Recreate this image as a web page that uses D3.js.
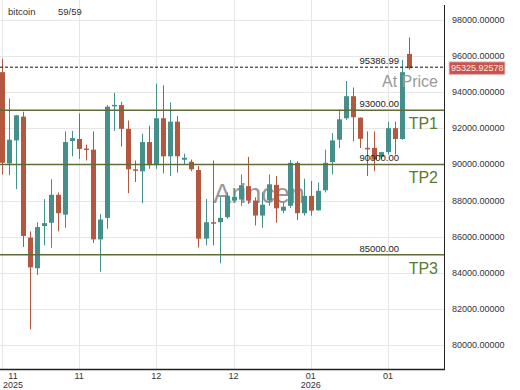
<!DOCTYPE html>
<html>

<head>
    <meta charset="utf-8">
    <style>
        body {
            margin: 0;
            background: white;
        }

        svg {
            display: block;
            font-family: 'Liberation Sans', Arial, sans-serif;
        }
    </style>
</head>

<body>
    <svg width="520" height="390"></svg>
</body>

<script src="https://d3js.org/d3.v7.min.js"></script>

<script>

    // candles (59 bars)
    let opens = [95110, 90060, 91330, 92650, 85950, 84250, 86590, 86770, 88320, 87220,
        91300, 91410, 90880, 90820, 85850, 87040, 93250, 93290, 91970, 89730,
        89620, 91240, 89960, 92560, 90450, 92370, 90260, 90150, 89690, 85890,
        86800, 86800, 87080, 88000, 88060, 88800, 88000, 87170, 88000, 88870,
        87440, 87710, 90090, 87300, 88260, 87460, 88570, 90130, 91370, 92560,
        93780, 92590, 90920, 90920, 90420, 90680, 92010, 91410, 96120]
    let highs = [95860, 93650, 92740, 92920, 86290, 86800, 88080, 89180, 88450, 91830,
        91860, 92830, 91100, 91830, 87260, 93290, 93960, 93470, 92430, 90220,
        91700, 92140, 94480, 94380, 93440, 92690, 90600, 90270, 89910, 88080,
        90220, 88190, 88450, 88630, 89450, 90420, 88180, 88450, 89450, 89360,
        87900, 90240, 90180, 89210, 89090, 89000, 90820, 91740, 93050, 94620,
        94260, 92600, 91830, 91830, 90700, 92370, 92370, 95790, 97030]
    let lows = [89450, 89400, 88630, 85430, 80870, 83880, 85520, 85380, 86290, 86490,
        90450, 90310, 90220, 85650, 84060, 86440, 91860, 91000, 88410, 89030,
        87850, 89760, 89760, 89510, 89360, 89550, 90000, 89630, 85400, 85520,
        85520, 84520, 86990, 87970, 87710, 87810, 86620, 86490, 87710, 86770,
        87300, 87590, 86930, 87170, 87170, 87440, 88450, 89450, 90910, 92470,
        91280, 90910, 89360, 89630, 90300, 90550, 90550, 91370, 95240]
    let closes = [90090, 91370, 92720, 86040, 84300, 86530, 86750, 88320, 87300, 91240,
        91460, 90860, 90860, 85850, 86950, 93200, 93300, 91970, 89730, 89700,
        91240, 89960, 92560, 90450, 92370, 90450, 90370, 89730, 85890, 86800,
        86750, 87040, 88260, 88200, 88850, 88000, 87170, 87770, 88900, 87570,
        87660, 90090, 87300, 88260, 87440, 88540, 90090, 91330, 92500, 93780,
        92610, 91420, 90900, 90270, 90680, 92010, 91410, 95110, 95330]

    let priceTicks = [80000, 82000, 84000, 86000, 88000, 90000, 92000, 94000, 96000, 98000]
    let dateTickIndex = [0, 11, 22, 33, 44, 55]
    let dateTickLabels = ["11", "11", "12", "12", "01", "01"]
    let yearLabels = ["2025", "", "", "", "2026", ""]

    let levels = [93000, 90000, 85000]
    let levelNames = ["TP1", "TP2", "TP3"]
    let atPrice = 95386.99
    let lastPrice = 95325.92578

    let svg = d3.select("svg")

    let plotRight = 444
    let plotBottom = 369

    let x = d3.scaleLinear()
        .domain([0, 58])
        .range([2, 409])

    let y = d3.scaleLinear()
        .domain([80000, 98000])
        .range([345, 20])

    // grid
    svg.selectAll(".hgrid")
        .data(priceTicks)
        .join("line")
        .attr("x1", 0)
        .attr("x2", plotRight)
        .attr("y1", d => Math.round(y(d)) + 0.5)
        .attr("y2", d => Math.round(y(d)) + 0.5)
        .style("stroke", "#e6e6e6")

    svg.selectAll(".vgrid")
        .data(dateTickIndex)
        .join("line")
        .attr("x1", d => Math.round(x(d)) + 0.5)
        .attr("x2", d => Math.round(x(d)) + 0.5)
        .attr("y1", 0)
        .attr("y2", plotBottom)
        .style("stroke", "#e6e6e6")

    // watermark
    svg.append("text")
        .attr("x", 259)
        .attr("y", 203)
        .attr("text-anchor", "middle")
        .style("font-size", "27px")
        .style("fill", "#555")
        .style("opacity", 0.6)
        .text("Arincen")

    // candles
    let idx = d3.range(opens.length)
    let upCol = "#45908a"
    let downCol = "#b5573f"
    let col = i => closes[i] >= opens[i] ? upCol : downCol

    svg.selectAll(".wick")
        .data(idx)
        .join("line")
        .attr("x1", i => Math.round(x(i)) + 0.5)
        .attr("x2", i => Math.round(x(i)) + 0.5)
        .attr("y1", i => y(highs[i]))
        .attr("y2", i => y(lows[i]))
        .style("stroke", i => col(i))
        .style("stroke-width", 1)

    svg.selectAll(".body")
        .data(idx)
        .join("rect")
        .attr("x", i => Math.round(x(i)) - 2)
        .attr("width", 5)
        .attr("y", i => y(Math.max(opens[i], closes[i])))
        .attr("height", i => Math.max(1.5, Math.abs(y(opens[i]) - y(closes[i]))))
        .style("fill", i => col(i))

    // target lines
    svg.selectAll(".level")
        .data(levels)
        .join("line")
        .attr("x1", 0)
        .attr("x2", plotRight)
        .attr("y1", d => y(d))
        .attr("y2", d => y(d))
        .style("stroke", "#5f6b38")
        .style("stroke-width", 1.4)

    svg.selectAll(".levelval")
        .data(levels)
        .join("text")
        .attr("x", 399)
        .attr("y", d => y(d) - 3)
        .attr("text-anchor", "end")
        .style("font-size", "9.5px")
        .style("fill", "#222")
        .text(d => d3.format(".2f")(d))

    svg.selectAll(".levelname")
        .data(levels)
        .join("text")
        .attr("x", 438)
        .attr("y", d => y(d) + 19)
        .attr("text-anchor", "end")
        .style("font-size", "16px")
        .style("fill", "#5a7a30")
        .text((d, i) => levelNames[i])

    // at price line
    svg.append("line")
        .attr("x1", 0)
        .attr("x2", plotRight)
        .attr("y1", y(atPrice))
        .attr("y2", y(atPrice))
        .style("stroke", "#111")
        .style("stroke-dasharray", "3,2")

    svg.append("text")
        .attr("x", 399)
        .attr("y", y(atPrice) - 3)
        .attr("text-anchor", "end")
        .style("font-size", "9.5px")
        .style("fill", "#222")
        .text(d3.format(".2f")(atPrice))

    svg.append("text")
        .attr("x", 438)
        .attr("y", y(atPrice) + 20)
        .attr("text-anchor", "end")
        .style("font-size", "16px")
        .style("fill", "#999")
        .text("At Price")

    // axes
    svg.append("line")
        .attr("x1", plotRight + 0.5)
        .attr("x2", plotRight + 0.5)
        .attr("y1", 5)
        .attr("y2", plotBottom)
        .style("stroke", "#222")

    svg.append("line")
        .attr("x1", 0)
        .attr("x2", plotRight + 1)
        .attr("y1", plotBottom + 0.5)
        .attr("y2", plotBottom + 0.5)
        .style("stroke", "#222")
        .style("stroke-width", 1.5)

    svg.selectAll(".ylab")
        .data(priceTicks)
        .join("text")
        .attr("x", 452)
        .attr("y", d => y(d) + 3)
        .style("font-size", "9px")
        .style("fill", "#333")
        .text(d => d3.format(".5f")(d))

    // current price tag
    svg.append("rect")
        .attr("x", 449)
        .attr("y", y(lastPrice) - 6.5)
        .attr("width", 56)
        .attr("height", 13)
        .style("fill", "#c4564b")
        .style("stroke", "#f4c8d8")

    svg.append("text")
        .attr("x", 451)
        .attr("y", y(lastPrice) + 3)
        .style("font-size", "9px")
        .style("fill", "#ffe6e6")
        .text(d3.format(".5f")(lastPrice))

    svg.selectAll(".xlab")
        .data(dateTickIndex)
        .join("text")
        .attr("x", d => Math.max(13, x(d)))
        .attr("y", 379)
        .attr("text-anchor", "middle")
        .style("font-size", "9px")
        .style("fill", "#333")
        .text((d, i) => dateTickLabels[i])

    svg.selectAll(".yearlab")
        .data(dateTickIndex)
        .join("text")
        .attr("x", d => Math.max(13, x(d)))
        .attr("y", 388)
        .attr("text-anchor", "middle")
        .style("font-size", "9px")
        .style("fill", "#333")
        .text((d, i) => yearLabels[i])

    // title
    svg.append("text")
        .attr("x", 8)
        .attr("y", 15)
        .style("font-size", "9.5px")
        .style("fill", "#333")
        .text("bitcoin")

    svg.append("text")
        .attr("x", 58)
        .attr("y", 15)
        .style("font-size", "9.5px")
        .style("fill", "#333")
        .text("59/59")

</script>

</html>
